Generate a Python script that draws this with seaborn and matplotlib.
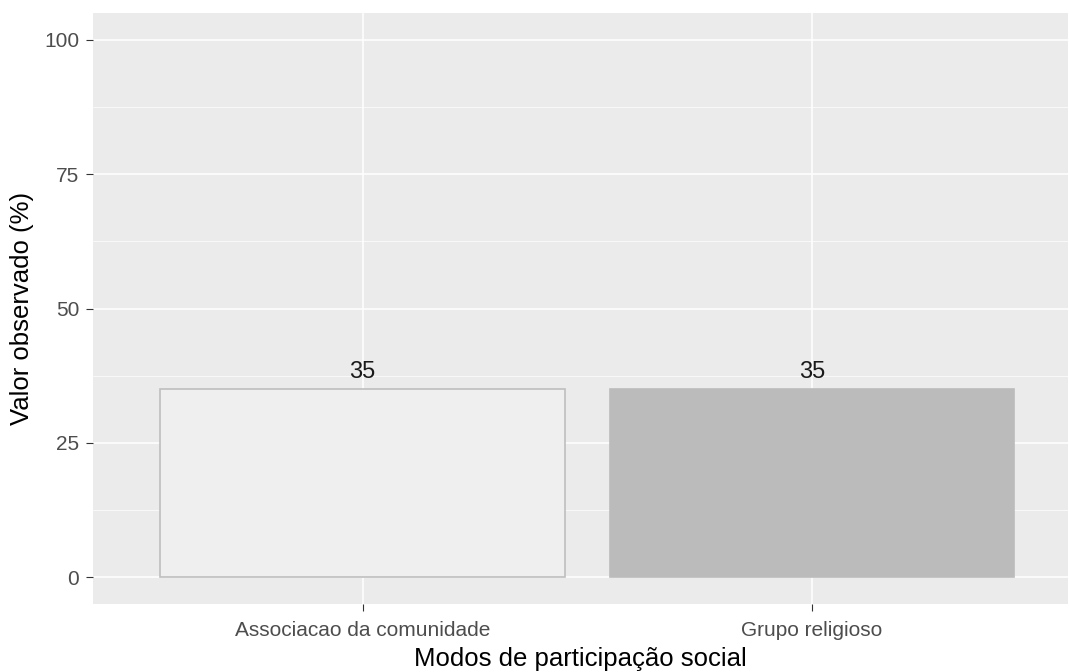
import pandas as pd
import seaborn as sns
import matplotlib.pyplot as plt
from matplotlib.ticker import MultipleLocator

# data
modos = ['Associacao da comunidade', 'Grupo religioso']
valores = [35, 35]
cores = ['#EFEFEF', '#BBBBBB']
bordas = ['#BEBEBE', '#BBBBBB']

df = pd.DataFrame({'Modo': modos, 'Valor': valores})

sns.set_theme(style='darkgrid', rc={
    'axes.facecolor': '#EBEBEB',
    'grid.color': 'white',
    'axes.edgecolor': '#EBEBEB',
})
plt.rcParams['font.family'] = ['Liberation Sans', 'DejaVu Sans']

fig = plt.figure(figsize=(10.69, 6.72), dpi=100)
ax = fig.add_axes([93 / 1069, 68 / 672, 975 / 1069, 591 / 672])

sns.barplot(data=df, x='Modo', y='Valor', hue='Modo', palette=cores,
            width=0.9, legend=False, ax=ax, zorder=3)
for p, ec in zip(ax.patches, bordas):
    p.set_edgecolor(ec)
    p.set_linewidth(1.2)

# value labels above the bars
for i, v in enumerate(valores):
    ax.text(i, v + 1.2, f'{v}', ha='center', va='bottom', fontsize=17, color='#1A1A1A')

ax.set_xlim(-0.6, 1.57)
ax.set_ylim(-5, 105)
ax.yaxis.set_major_locator(MultipleLocator(25))
ax.yaxis.set_minor_locator(MultipleLocator(12.5))
ax.grid(which='major', color='white', linewidth=1.1)
ax.grid(which='minor', axis='y', color='white', linewidth=0.5)
ax.set_axisbelow(True)
for s in ax.spines.values():
    s.set_visible(False)

ax.tick_params(axis='both', which='major', length=5, width=0.8, color='#333333',
               labelsize=15, labelcolor='#4D4D4D', pad=5, bottom=True, left=True)
ax.tick_params(axis='x', which='major', pad=7)
ax.tick_params(axis='both', which='minor', length=0)

ax.set_xlabel('Modos de participação social', fontsize=18.5, color='black', labelpad=5)
ax.set_ylabel('Valor observado (%)', fontsize=18.5, color='black', labelpad=7)

fig.savefig('out.png', dpi=100)
